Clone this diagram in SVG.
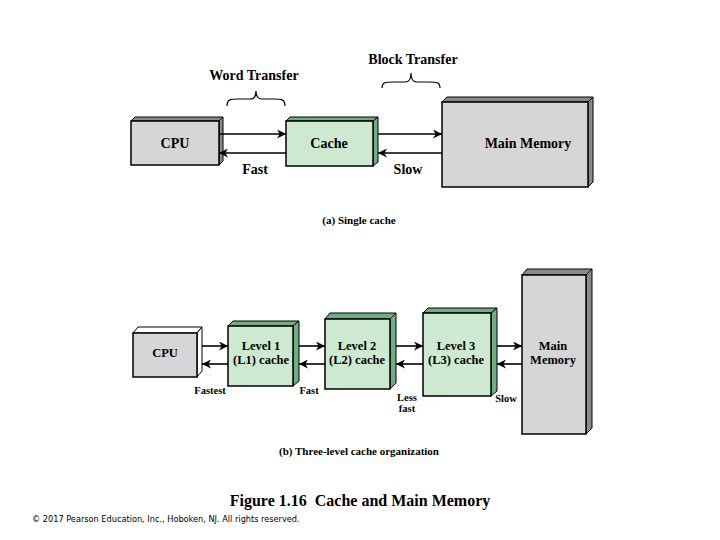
<svg xmlns="http://www.w3.org/2000/svg" width="720" height="540" viewBox="0 0 720 540">
<defs>
<marker id="ah" viewBox="0 0 10 10" refX="10" refY="5" markerWidth="9" markerHeight="9" markerUnits="userSpaceOnUse" orient="auto">
<path d="M0,0 L10,5 L0,10 L3,5 Z" fill="#000"/>
</marker>
<style>
.front{stroke:#000;stroke-width:1.5}
.grey{fill:#d6d6d6}
.greyd{fill:#8a8a8a;stroke:#000;stroke-width:1}
.green{fill:#cde9cf}
.greend{fill:#6fae80;stroke:#000;stroke-width:1}
.white{fill:#fff;stroke:#000;stroke-width:1}
.conn{stroke:#000;stroke-width:1.6;fill:none;marker-end:url(#ah)}
.brace{stroke:#000;stroke-width:1.2;fill:none}
text{font-family:"Liberation Serif","Times New Roman",serif;font-weight:bold;fill:#000;text-anchor:middle}
.big{font-size:14px}
.sm{font-size:12.5px}
.cap{font-size:10.5px}
.capl{font-size:11px}
.title{font-size:16px}
.copy{font-family:"DejaVu Sans","Liberation Sans",sans-serif;font-weight:normal;font-size:8.2px;text-anchor:start}
</style>
</defs>
<rect width="720" height="540" fill="#fff"/>

<!-- (a) Single cache -->
<g id="cpu-a">
<polygon class="greyd" points="131,121 135,117 223,117 219,121"/>
<polygon class="greyd" points="219,121 223,117 223,161 219,165"/>
<rect class="front grey" x="131" y="121" width="88" height="44"/>
<text class="big" x="175" y="148">CPU</text>
</g>
<g id="cache-a">
<polygon class="greend" points="286,121 290,117 378,117 373,121"/>
<polygon class="greend" points="373,121 378,117 378,162 373,166"/>
<rect class="front green" x="286" y="121" width="87" height="45"/>
<text class="big" x="329" y="148">Cache</text>
</g>
<g id="mm-a">
<polygon class="greyd" points="442,102 447,97 593,97 588,102"/>
<polygon class="greyd" points="588,102 593,97 593,182 588,187"/>
<rect class="front grey" x="442" y="102" width="146" height="85"/>
<text class="big" x="528" y="148">Main Memory</text>
</g>
<g id="labels-a">
<text class="big" x="254" y="80">Word Transfer</text>
<text class="big" x="413" y="64">Block Transfer</text>
<text class="big" x="255" y="174">Fast</text>
<text class="big" x="408" y="174">Slow</text>
<text class="capl" x="359" y="224">(a) Single cache</text>
</g>
<g id="braces">
<path class="brace" d="M227,106 C227,99 231,99 238,99 L250,99 C254,99 256,97 256,91 C256,97 258,99 262,99 L274,99 C281,99 285,99 285,106"/>
<path class="brace" d="M382,88 C382,82 386,82 393,82 L405,82 C409,82 411,80 411,73 C411,80 413,82 417,82 L429,82 C436,82 440,82 440,88"/>
</g>

<!-- (b) Three-level cache -->
<g id="cpu-b">
<polygon class="white" points="133,333 138,327 202,327 197,333"/>
<polygon class="white" points="197,333 202,327 202,371 197,377"/>
<rect class="front grey" x="133" y="333" width="64" height="44"/>
<text class="sm" x="165" y="357">CPU</text>
</g>
<g id="l1">
<polygon class="greend" points="228,326 233,321 299,321 293,326"/>
<polygon class="greend" points="293,326 299,321 299,381 293,386"/>
<rect class="front green" x="228" y="326" width="65" height="60"/>
<text class="sm" x="261" y="350">Level 1</text>
<text class="sm" x="261" y="364">(L1) cache</text>
</g>
<g id="l2">
<polygon class="greend" points="325,319 330,313 396,313 390,319"/>
<polygon class="greend" points="390,319 396,313 396,383 390,389"/>
<rect class="front green" x="325" y="319" width="65" height="70"/>
<text class="sm" x="357" y="350">Level 2</text>
<text class="sm" x="357" y="364">(L2) cache</text>
</g>
<g id="l3">
<polygon class="greend" points="423,313 428,308 497,308 491,313"/>
<polygon class="greend" points="491,313 497,308 497,391 491,396"/>
<rect class="front green" x="423" y="313" width="68" height="83"/>
<text class="sm" x="456" y="350">Level 3</text>
<text class="sm" x="456" y="364">(L3) cache</text>
</g>
<g id="mm-b">
<polygon class="greyd" points="522,275 527,269 592,269 586,275"/>
<polygon class="greyd" points="586,275 592,269 592,428 586,434"/>
<rect class="front grey" x="522" y="275" width="64" height="159"/>
<text class="sm" x="553" y="350">Main</text>
<text class="sm" x="553" y="364">Memory</text>
</g>
<g id="labels-b">
<text class="cap" x="210" y="394">Fastest</text>
<text class="cap" x="309" y="394">Fast</text>
<text class="cap" x="407" y="401">Less</text>
<text class="cap" x="407" y="412">fast</text>
<text class="cap" x="506" y="402">Slow</text>
<text class="capl" x="359" y="455">(b) Three-level cache organization</text>
</g>

<g id="connectors">
<line class="conn" x1="219" y1="134" x2="286" y2="134"/>
<line class="conn" x1="286" y1="153" x2="219" y2="153"/>
<line class="conn" x1="378" y1="134" x2="442" y2="134"/>
<line class="conn" x1="442" y1="153" x2="378" y2="153"/>
<line class="conn" x1="202" y1="346" x2="228" y2="346"/>
<line class="conn" x1="228" y1="364" x2="202" y2="364"/>
<line class="conn" x1="299" y1="346" x2="325" y2="346"/>
<line class="conn" x1="325" y1="364" x2="299" y2="364"/>
<line class="conn" x1="396" y1="346" x2="423" y2="346"/>
<line class="conn" x1="423" y1="364" x2="396" y2="364"/>
<line class="conn" x1="497" y1="346" x2="522" y2="346"/>
<line class="conn" x1="522" y1="364" x2="497" y2="364"/>
</g>

<g id="footer">
<text class="title" x="360" y="506">Figure 1.16&#160; Cache and Main Memory</text>
<text class="copy" x="32" y="522">© 2017 Pearson Education, Inc., Hoboken, NJ. All rights reserved.</text>
</g>
</svg>
